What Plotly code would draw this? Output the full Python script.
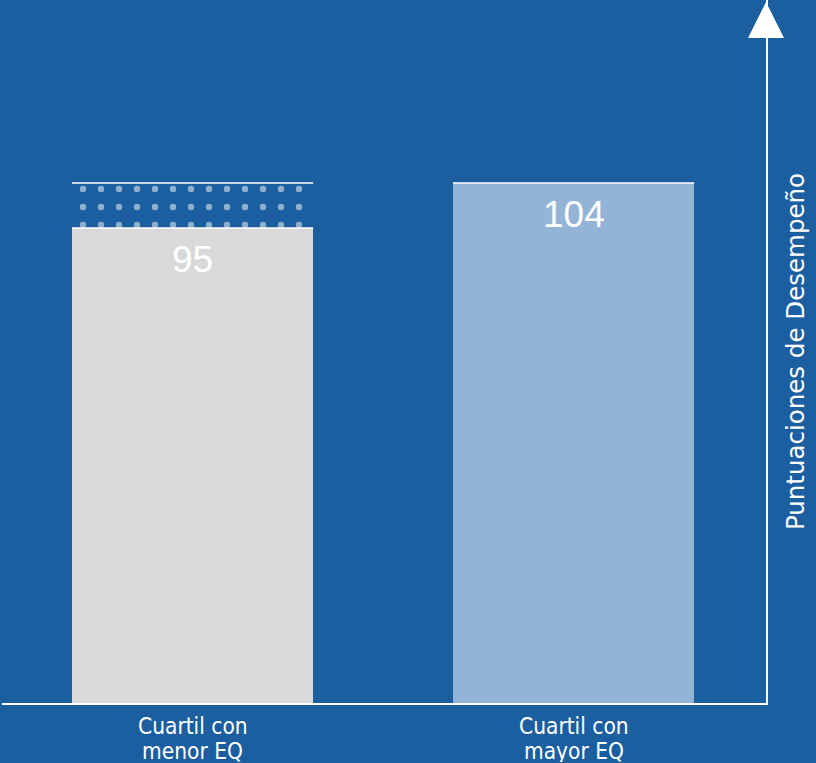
import plotly.graph_objects as go

# ---- data ----
categories = ["Cuartil con<br>menor EQ", "Cuartil con<br>mayor EQ"]
scores = [95, 104]
gap_upper = 104          # dotted (potential) range above the low-EQ bar
axis_title = "Puntuaciones de Desempeño"

# ---- style ----
BG = "#1B5FA1"
GRAY = "#D9D9D9"
LIGHT = "#93B4D7"
WHITE = "#FFFFFF"
BAR_W = 0.633
LABEL_FONT = "DejaVu Sans Condensed, DejaVu Sans, sans-serif"
VALUE_FONT = "Liberation Sans, Arial, sans-serif"

fig = go.Figure()

fig.add_trace(go.Bar(x=[categories[0]], y=[scores[0]], width=BAR_W,
                     marker=dict(color=GRAY, line=dict(width=0)),
                     hoverinfo="skip", showlegend=False))
fig.add_trace(go.Bar(x=[categories[1]], y=[scores[1]], width=BAR_W,
                     marker=dict(color=LIGHT, line=dict(width=0)),
                     hoverinfo="skip", showlegend=False))
# dotted gap region on top of the first bar
fig.add_trace(go.Bar(x=[categories[0]], base=[scores[0]], y=[gap_upper - scores[0]],
                     width=BAR_W,
                     marker=dict(color="rgba(0,0,0,0)", line=dict(width=0),
                                 pattern=dict(shape=".", fgcolor=WHITE,
                                              bgcolor="rgba(0,0,0,0)", size=18,
                                              solidity=0.1, fillmode="overlay")),
                     hoverinfo="skip", showlegend=False))

# thin white top edges
tops = [(0, scores[0]), (0, gap_upper), (1, scores[1])]
for i, v in tops:
    fig.add_shape(type="line", xref="x", yref="y",
                  x0=i - BAR_W / 2, x1=i + BAR_W / 2, y0=v, y1=v,
                  line=dict(color=WHITE, width=1.5))

# value labels
for i, v in enumerate(scores):
    fig.add_annotation(x=i, y=v, xref="x", yref="y", text=str(v), showarrow=False,
                       yanchor="middle", yshift=-31,
                       font=dict(family=VALUE_FONT, size=37, color=WHITE))

# category labels (two tight lines)
for i, c in enumerate(categories):
    for k, line in enumerate(c.split("<br>")):
        fig.add_annotation(x=i, y=0, xref="x", yref="y", text=line, showarrow=False,
                           yanchor="middle", yshift=-22.5 - 25.5 * k, height=22,
                           font=dict(family=LABEL_FONT, size=22.5, color=WHITE))

# arrow head on the vertical axis
fig.add_shape(type="path", xref="paper", yref="paper",
              path="M 0.97644 0.94595 L 1.02356 0.94595 L 1.0 0.99716 Z",
              fillcolor=WHITE, line=dict(color=WHITE, width=0))

fig.update_layout(
    width=816, height=763,
    margin=dict(l=2, r=50, t=0, b=60),
    paper_bgcolor=BG, plot_bgcolor=BG,
    barmode="overlay", bargap=0,
    xaxis=dict(range=[-0.5, 1.505], showticklabels=False, showgrid=False,
               zeroline=False, showline=True, linecolor=WHITE, linewidth=1.5,
               ticks=""),
    yaxis=dict(range=[0, 140.6], side="right", showticklabels=False, showgrid=False,
               zeroline=False, showline=True, linecolor=WHITE, linewidth=1.5,
               ticks="",
               title=dict(text=axis_title, standoff=20,
                          font=dict(family="DejaVu Sans, sans-serif", size=24.5, color=WHITE))),
)

fig.write_html("out.html",
               config={"displayModeBar": False},
               post_script="document.body.style.margin='0';"
                           "document.body.style.overflow='hidden';")
